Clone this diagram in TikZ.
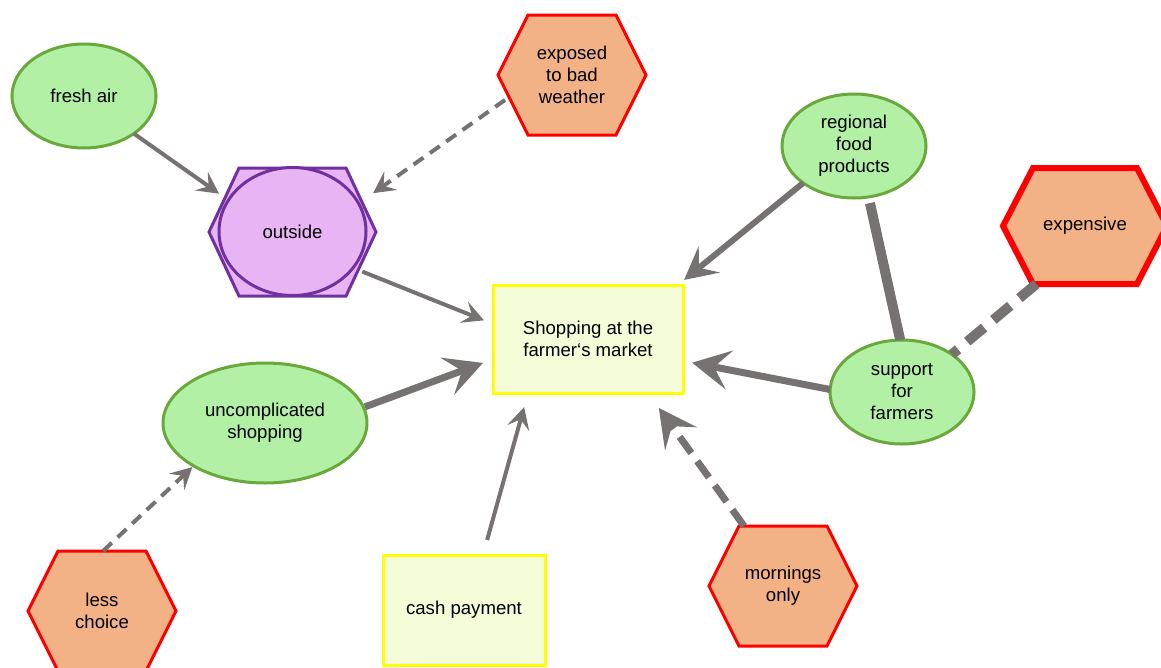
\documentclass[tikz,border=0pt]{standalone}
\usepackage{fontspec}
\setmainfont{Liberation Sans}
\usetikzlibrary{arrows.meta,shapes.geometric}
\definecolor{gfill}{RGB}{178,240,166}
\definecolor{gline}{RGB}{106,168,60}
\definecolor{ofill}{RGB}{243,178,133}
\definecolor{pfill}{RGB}{232,180,244}
\definecolor{pline}{RGB}{112,48,160}
\definecolor{yfill}{RGB}{244,252,216}
\definecolor{yline}{RGB}{255,255,0}
\definecolor{conn}{RGB}{118,114,114}
\tikzset{
  txt/.style={align=center,font=\fontsize{18.6}{22}\selectfont,text=black,inner sep=0pt,outer sep=0pt},
  pro/.style={txt,ellipse,draw=gline,fill=gfill,line width=3pt,minimum width=144pt,minimum height=104pt},
  con/.style={txt,rectangle,minimum width=148pt,minimum height=120pt},
  box/.style={txt,rectangle,draw=yline,fill=yfill,line width=3pt},
  hexa/.style={draw=red,fill=ofill,line width=3pt,line join=miter},
  link/.style={draw=conn,line width=4pt},
  arr/.style={link,-{Stealth[length=0pt 5.4,width=0pt 5.6,inset=0pt 2.2]}},
  dashA/.style={dash pattern=on 12pt off 8pt},
  dashB/.style={dash pattern=on 20pt off 10pt},
  dashC/.style={dash pattern=on 22pt off 12pt},
}
\newcommand\hexshape[5][]{%
  \draw[hexa,#1] (#2-#4,#3) -- (#2-#4+30,#3-#5) -- (#2+#4-30,#3-#5) -- (#2+#4,#3)
    -- (#2+#4-30,#3+#5) -- (#2-#4+30,#3+#5) -- cycle;}
\begin{document}
\begin{tikzpicture}[x=1pt,y=-1pt]
\useasboundingbox (0,0) rectangle (1161,667);
% nodes
\node[pro] (fresh) at (84,96) {fresh air};
\hexshape{572}{75}{74}{60}
\node[con] (exposed) at (572,75) {exposed\\to bad\\weather};
\hexshape[draw=pline,fill=pfill]{292.5}{232}{83.5}{64}
\node[txt,ellipse,draw=pline,fill=pfill,line width=3pt,minimum width=147pt,minimum height=128pt] (outside) at (292.5,231.5) {outside};
\node[pro] (regional) at (854,146) {regional\\food\\products};
\hexshape[line width=6pt]{1085}{226}{82}{58}
\node[txt,rectangle,minimum width=164pt,minimum height=116pt] (expensive) at (1085,226) {expensive};
\node[box,minimum width=190pt,minimum height=108pt] (shopping) at (588,339) {Shopping at the\\farmer‘s market};
\node[pro] (support) at (902,392) {support\\for\\farmers};
\node[pro,minimum width=204pt,minimum height=120pt] (uncomp) at (265,423) {uncomplicated\\shopping};
\hexshape{102}{611}{74}{60}
\node[con] (less) at (102,611) {less\\choice};
\node[box,minimum width=162pt,minimum height=110pt] (cash) at (464,610) {cash payment};
\hexshape{783}{586}{74}{60}
\node[con] (mornings) at (783,586) {mornings\\only};
% connectors
\draw[arr,shorten >=11.4pt] (fresh.-37) -- (outside.154);
\draw[arr,dashA,shorten <=-8.6pt,shorten >=17.8pt] (exposed.202) -- (outside.23);
\draw[arr,shorten <=10pt,shorten >=9.7pt] (outside.-31) -- (shopping.171);
\draw[arr,line width=6pt,shorten >=8pt] (regional.216) -- (shopping.31);
\draw[link,line width=10pt,shorten <=6.3pt] (regional.-74) -- (support.92);
\draw[link,line width=10pt,dashC] (expensive.230) -- (support.37);
\draw[arr,line width=7pt,shorten >=9.2pt] (support.178) -- (shopping.-13);
\draw[arr,line width=7pt,shorten <=1.5pt,shorten >=10.7pt] (uncomp.9) -- (shopping.192);
\draw[arr,dashA,shorten >=1.7pt] (less.89) -- (uncomp.211);
\draw[arr,shorten <=15.6pt,shorten >=14.6pt] (cash.71) -- (shopping.222);
\draw[arr,line width=7pt,dashB,shorten >=18.5pt] (mornings.123) -- (shopping.-42);
\end{tikzpicture}
\end{document}
